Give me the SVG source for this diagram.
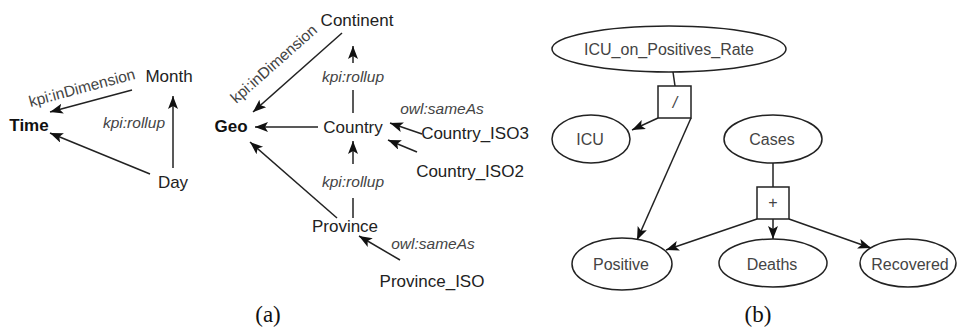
<svg xmlns="http://www.w3.org/2000/svg" width="958" height="331" viewBox="0 0 958 331">
<defs>
<marker id="ah" markerUnits="userSpaceOnUse" markerWidth="14" markerHeight="12" refX="13" refY="5" orient="auto">
<path d="M0,0 L13,5 L0,10 L3,5 z" fill="#111"/>
</marker>
</defs>
<style>
.t{font-family:"Liberation Sans",Arial,sans-serif;font-size:17px;fill:#222;text-anchor:middle}
.b{font-weight:bold;fill:#111}
.l{font-family:"Liberation Sans",Arial,sans-serif;font-size:15.5px;fill:#444;text-anchor:middle}
.i{font-style:italic}
.r{font-family:"Liberation Sans",Arial,sans-serif;font-size:16px;fill:#444;text-anchor:middle}
.c{font-family:"Liberation Serif","Times New Roman",serif;font-size:23px;fill:#111;text-anchor:middle}
.e{fill:#fff;stroke:#222;stroke-width:1.5}
.k{fill:none;stroke:#222;stroke-width:1.5}
.a{marker-end:url(#ah)}
</style>
<rect width="958" height="331" fill="#fff"/>
<g id="connectors">
<line class="k a" x1="132" y1="90" x2="50" y2="112"/>
<line class="k a" x1="150" y1="174" x2="50" y2="133"/>
<line class="k a" x1="173" y1="168" x2="173" y2="96"/>
<line class="k a" x1="342" y1="33" x2="253" y2="112"/>
<line class="k" x1="353" y1="113" x2="353" y2="90"/>
<line class="k a" x1="353" y1="63" x2="353" y2="46"/>
<line class="k a" x1="318" y1="127" x2="255" y2="127"/>
<line class="k a" x1="422" y1="134" x2="390" y2="123"/>
<line class="k a" x1="417" y1="152" x2="388" y2="140"/>
<line class="k" x1="353" y1="218" x2="353" y2="198"/>
<line class="k a" x1="353" y1="164" x2="353" y2="141"/>
<line class="k a" x1="337" y1="218" x2="250" y2="142"/>
<line class="k a" x1="400" y1="260" x2="359" y2="236"/>
<line class="k" x1="673" y1="72" x2="675" y2="86"/>
<line class="k a" x1="658" y1="118" x2="632" y2="130"/>
<line class="k a" x1="691" y1="118" x2="637" y2="240"/>
<line class="k" x1="773" y1="163" x2="773" y2="187"/>
<line class="k a" x1="757" y1="219" x2="666" y2="250"/>
<line class="k a" x1="773" y1="219" x2="773" y2="239"/>
<line class="k a" x1="789" y1="219" x2="871" y2="248"/>
</g>
<g id="edge-labels">
<text class="l" transform="translate(82,88) rotate(-15)" y="5">kpi:inDimension</text>
<text class="l i" x="134" y="128">kpi:rollup</text>
<text class="l" transform="translate(274,64) rotate(-41.5)" y="5">kpi:inDimension</text>
<text class="l i" x="353" y="82">kpi:rollup</text>
<text class="l i" x="442" y="114">owl:sameAs</text>
<text class="l i" x="353" y="187">kpi:rollup</text>
<text class="l i" x="433" y="249">owl:sameAs</text>
</g>
<g id="Time"><text class="t b" x="29" y="131">Time</text></g>
<g id="Month"><text class="t" x="169" y="82">Month</text></g>
<g id="Day"><text class="t" x="173" y="188">Day</text></g>
<g id="Geo"><text class="t b" x="231" y="132">Geo</text></g>
<g id="Continent"><text class="t" x="357" y="26">Continent</text></g>
<g id="Country"><text class="t" x="353" y="133">Country</text></g>
<g id="Country_ISO3"><text class="t" x="475" y="139">Country_ISO3</text></g>
<g id="Country_ISO2"><text class="t" x="470" y="177">Country_ISO2</text></g>
<g id="Province"><text class="t" x="345" y="232">Province</text></g>
<g id="Province_ISO"><text class="t" x="432" y="287">Province_ISO</text></g>
<g id="ICU_on_Positives_Rate"><ellipse class="e" cx="669" cy="49" rx="117" ry="23"/><text class="r" x="669" y="55">ICU_on_Positives_Rate</text></g>
<g id="op-div"><rect class="e" x="658" y="86" width="33" height="32"/><text class="r i" x="675" y="108">/</text></g>
<g id="ICU"><ellipse class="e" cx="591" cy="139" rx="39" ry="24"/><text class="r" x="590" y="145">ICU</text></g>
<g id="Cases"><ellipse class="e" cx="773" cy="139" rx="49" ry="24"/><text class="r" x="772" y="145">Cases</text></g>
<g id="op-plus"><rect class="e" x="757" y="187" width="32" height="32"/><text class="r" x="773" y="208">+</text></g>
<g id="Positive"><ellipse class="e" cx="622" cy="264" rx="50" ry="26"/><text class="r" x="621" y="270">Positive</text></g>
<g id="Deaths"><ellipse class="e" cx="773" cy="263" rx="54" ry="24"/><text class="r" x="772" y="270">Deaths</text></g>
<g id="Recovered"><ellipse class="e" cx="908" cy="263" rx="48" ry="24"/><text class="r" x="910" y="270">Recovered</text></g>
<g id="captions">
<text class="c" x="268" y="322">(a)</text>
<text class="c" x="758" y="322">(b)</text>
</g>
</svg>
